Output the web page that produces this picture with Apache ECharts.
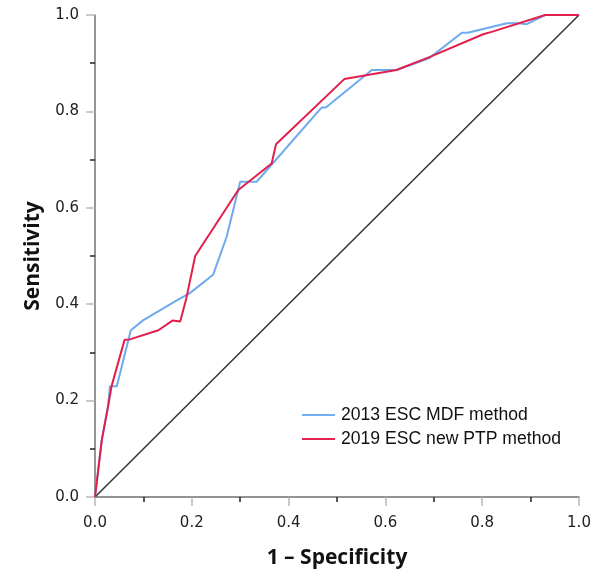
<!DOCTYPE html>
<html>
<head>
<meta charset="utf-8">
<script src="https://cdn.jsdelivr.net/npm/echarts@6/dist/echarts.min.js"></script>
<style>html,body{margin:0;padding:0;background:#fff}#c{width:600px;height:576px}</style>
</head>
<body>
<div id="c"></div>
<script>
var seriesNames = ['2013 ESC MDF method', '2019 ESC new PTP method'];
var fpr2013 = [0, 0.014, 0.027, 0.031, 0.045, 0.074, 0.100, 0.169, 0.196, 0.244, 0.272, 0.300, 0.334, 0.468, 0.477, 0.572, 0.623, 0.690, 0.758, 0.770, 0.851, 0.875, 0.892, 0.930, 1.0];
var tpr2013 = [0, 0.118, 0.190, 0.230, 0.230, 0.346, 0.367, 0.408, 0.423, 0.461, 0.540, 0.654, 0.654, 0.808, 0.808, 0.886, 0.886, 0.910, 0.963, 0.963, 0.983, 0.983, 0.981, 1.0, 1.0];
var fpr2019 = [0, 0.014, 0.027, 0.034, 0.061, 0.072, 0.131, 0.160, 0.176, 0.188, 0.207, 0.296, 0.365, 0.374, 0.515, 0.623, 0.692, 0.802, 0.823, 0.930, 1.0];
var tpr2019 = [0, 0.118, 0.187, 0.229, 0.326, 0.327, 0.346, 0.366, 0.364, 0.409, 0.500, 0.637, 0.692, 0.732, 0.867, 0.886, 0.913, 0.960, 0.966, 1.0, 1.0];
var refX = [0, 1];
var refY = [0, 1];
var axisMin = 0, axisMax = 1, axisStep = 0.2;

function pairs(xs, ys) { return xs.map(function (x, i) { return [x, ys[i]]; }); }

var chart = echarts.init(document.getElementById('c'), null, { renderer: 'canvas' });
var axisCommon = {
  type: 'value', min: axisMin, max: axisMax, interval: axisStep,
  nameLocation: 'middle',
  nameTextStyle: { fontFamily: 'Open Sans', fontWeight: 'bold', fontSize: 21, color: '#111' },
  axisLine: { show: true, lineStyle: { color: '#707070', width: 1.5 } },
  axisTick: { show: true, length: 9, lineStyle: { color: '#b8b8b8', width: 1.5 } },
  minorTick: { show: true, splitNumber: 2, length: 5, lineStyle: { color: '#222', width: 1.5 } },
  axisLabel: { fontFamily: 'DejaVu Sans', fontSize: 15, color: '#222', formatter: function (v) { return v.toFixed(1); } },
  splitLine: { show: false }
};
chart.setOption({
  animation: false,
  backgroundColor: '#fff',
  grid: { left: 95, right: 21, top: 15, bottom: 79, containLabel: false },
  xAxis: Object.assign({}, axisCommon, { name: '1 \u2013 Specificity', nameGap: 51, axisLabel: Object.assign({}, axisCommon.axisLabel, { margin: 19 }) }),
  yAxis: Object.assign({}, axisCommon, { name: 'Sensitivity', nameGap: 51, axisLabel: Object.assign({}, axisCommon.axisLabel, { margin: 16 }) }),
  legend: {
    data: seriesNames, orient: 'vertical', left: 302, top: 405, padding: 0,
    itemWidth: 33, itemHeight: 2, itemGap: 4, icon: 'rect',
    textStyle: { fontFamily: 'Liberation Sans', fontSize: 17.6, color: '#111', lineHeight: 20, padding: [0, 0, 0, 1] }
  },
  series: [
    { name: 'ref', type: 'line', data: pairs(refX, refY), symbol: 'none', silent: true, lineStyle: { color: '#333', width: 1.5 }, z: 1 },
    { name: seriesNames[0], type: 'line', data: pairs(fpr2013, tpr2013), symbol: 'none', color: '#74b0f0', lineStyle: { color: '#6eaaee', width: 2 }, z: 2 },
    { name: seriesNames[1], type: 'line', data: pairs(fpr2019, tpr2019), symbol: 'none', color: '#e4254f', lineStyle: { color: '#e21f4c', width: 2 }, z: 3 }
  ]
});
</script>
</body>
</html>
